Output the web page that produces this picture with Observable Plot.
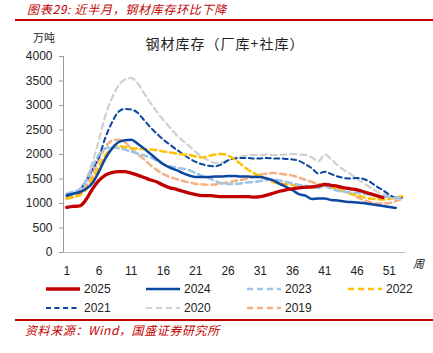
<!DOCTYPE html>
<html><head><meta charset="utf-8">
<script src="https://cdn.jsdelivr.net/npm/d3@7"></script>
<script src="https://cdn.jsdelivr.net/npm/@observablehq/plot@0.6"></script>
<style>
body{margin:0;background:#fff;width:433px;height:353px;overflow:hidden;position:relative;font-family:"Liberation Sans","Noto Sans CJK SC",sans-serif;}
.abs{position:absolute;white-space:nowrap;}
.cjk{font-family:"Noto Sans CJK SC",sans-serif;}
</style></head><body>
<div class="abs cjk" style="left:27px;top:0px;line-height:17px;font-size:12px;letter-spacing:0.7px;color:#C00000;font-style:italic;">图表29:&nbsp;近半月，钢材库存环比下降</div>
<div class="abs" style="left:15px;top:19px;width:418px;height:2px;background:#C00000;"></div>
<div class="abs cjk" style="left:33px;top:29px;font-size:11px;color:#222;">万吨</div>
<div class="abs cjk" style="left:0;width:450px;top:33px;text-align:center;font-size:14px;letter-spacing:1px;color:#222;">钢材库存（厂库+社库）</div>
<div class="abs cjk" style="left:413px;top:255px;font-size:11px;color:#222;font-style:italic;">周</div>
<div id="chart" class="abs" style="left:0;top:30px;"></div>
<div id="legend" class="abs" style="left:0;top:278px;"></div>
<div class="abs" style="left:15px;top:319px;width:418px;height:1.5px;background:#C00000;"></div>
<div class="abs cjk" style="left:25px;top:321px;font-size:12px;letter-spacing:0.6px;color:#C00000;font-style:italic;">资料来源：Wind，国盛证券研究所</div>
<script>
const years = ["2025","2024","2023","2022","2021","2020","2019"];
const s2025 = [920,940,950,1080,1300,1470,1580,1630,1650,1650,1620,1580,1530,1480,1440,1370,1320,1290,1250,1210,1180,1160,1160,1150,1140,1140,1140,1140,1140,1130,1140,1170,1210,1250,1280,1300,1320,1330,1340,1360,1390,1370,1350,1320,1300,1280,1240,1200,1160,1120];
const s2024 = [1170,1200,1230,1300,1420,1650,1920,2120,2250,2290,2300,2220,2120,2010,1900,1800,1730,1680,1620,1570,1540,1540,1540,1550,1550,1560,1560,1550,1550,1540,1540,1510,1470,1400,1340,1270,1190,1160,1090,1100,1100,1070,1060,1040,1030,1020,1010,990,970,950,930,910];
const s2023 = [1200,1240,1290,1450,1750,2000,2120,2150,2130,2100,2060,2020,1980,1940,1870,1800,1760,1730,1710,1680,1620,1560,1520,1460,1410,1400,1400,1410,1430,1440,1460,1480,1490,1470,1440,1410,1380,1360,1340,1320,1350,1300,1260,1240,1230,1220,1200,1180,1160,1150,1130,1110,1110];
const s2022 = [1100,1130,1170,1280,1500,1750,1990,2120,2170,2150,2130,2120,2110,2100,2090,2060,2040,2020,2000,1990,1960,1940,1970,2000,2010,1980,1900,1800,1700,1620,1550,1490,1440,1410,1400,1380,1360,1330,1320,1320,1380,1330,1280,1240,1200,1170,1130,1100,1090,1080,1090,1120,1150];
const s2021 = [1150,1200,1280,1450,1700,1950,2350,2650,2870,2930,2920,2850,2700,2550,2420,2300,2200,2100,2010,1920,1850,1800,1770,1760,1800,1880,1920,1930,1930,1920,1920,1930,1920,1920,1910,1900,1870,1800,1720,1610,1650,1600,1550,1520,1510,1520,1500,1440,1350,1270,1180,1120,1120];
const s2020 = [1130,1180,1280,1500,1850,2300,2800,3150,3400,3530,3560,3450,3250,3050,2870,2700,2550,2400,2280,2170,2050,1950,1880,1830,1840,1880,1930,1960,1980,1990,1990,2000,1990,1990,2000,2010,2000,1990,1940,1860,2000,1900,1780,1680,1600,1500,1420,1330,1250,1190,1140,1100,1090];
const s2019 = [1100,1130,1200,1350,1600,1900,2150,2280,2300,2250,2120,2000,1900,1780,1680,1600,1540,1500,1460,1430,1400,1390,1380,1390,1410,1430,1460,1480,1510,1550,1590,1610,1620,1610,1590,1570,1530,1480,1440,1400,1370,1340,1300,1250,1200,1130,1070,1030,1000,1000,1010,1050,1100];
const yTicks = [0,500,1000,1500,2000,2500,3000,3500,4000];
const xTicks = [1,6,11,16,21,26,31,36,41,46,51];

const seriesValues = {"2025":s2025,"2024":s2024,"2023":s2023,"2022":s2022,"2021":s2021,"2020":s2020,"2019":s2019};
const style = {
  "2025":{stroke:"#C00000",w:3.3,dash:null},
  "2024":{stroke:"#0B47A1",w:2.5,dash:null},
  "2023":{stroke:"#9DC3E6",w:2.5,dash:"6,4"},
  "2022":{stroke:"#FFC000",w:2.5,dash:"6,4"},
  "2021":{stroke:"#0B47A1",w:2,dash:"5,3.5"},
  "2020":{stroke:"#D0D0D0",w:2.2,dash:"6,4"},
  "2019":{stroke:"#F4B183",w:2.5,dash:"6,4"}
};
const drawOrder = ["2019","2020","2021","2022","2023","2024","2025"];
const lineMarks = drawOrder.map(y => {
  const data = seriesValues[y].map((v,i)=>({week:i+1,value:v}));
  const s = style[y];
  const o = {x:"week",y:"value",stroke:s.stroke,strokeWidth:s.w,curve:"monotone-x",strokeLinejoin:"round"};
  if (s.dash) o.strokeDasharray = s.dash;
  return Plot.line(data,o);
});

const chart = Plot.plot({
  width:433,height:252,marginLeft:63,marginRight:28,marginTop:26,marginBottom:30,
  style:{fontFamily:"Liberation Sans, Arial, sans-serif",fontSize:"12px",color:"#222",background:"transparent"},
  x:{domain:[0.5,53.5],axis:null},
  y:{domain:[0,4000],axis:null},
  marks:[
    Plot.axisY({ticks:yTicks,label:null,tickSize:4,tickPadding:7,stroke:"#999",fill:"#222",fontSize:12,tickFormat:d=>String(d)}),
    Plot.axisX({ticks:xTicks,label:null,tickSize:0,tickPadding:14,fill:"#222",fontSize:12,tickFormat:d=>String(d)}),
    ...lineMarks,
    Plot.ruleX([0.5],{stroke:"#999",strokeWidth:1}),
    Plot.ruleY([0],{stroke:"#bbb",strokeWidth:1.2})
  ]
});
document.getElementById("chart").appendChild(chart);

// legend
const cols = [46,146,247,348];
const rowsY = [11,30];
const leg = d3.select("#legend").append("svg").attr("width",433).attr("height",40);
years.forEach((y,i)=>{
  const cx = cols[i%4], cy = rowsY[Math.floor(i/4)];
  const s = style[y];
  const ln = leg.append("line").attr("x1",cx).attr("x2",cx+34).attr("y1",cy).attr("y2",cy)
    .attr("stroke",s.stroke).attr("stroke-width",s.w);
  if (s.dash) ln.attr("stroke-dasharray",s.dash);
  leg.append("text").attr("x",cx+38).attr("y",cy).attr("dy","0.35em")
    .attr("font-family","Liberation Sans, Arial, sans-serif").attr("font-size",12).attr("fill","#222").text(y);
});
</script>
</body></html>
